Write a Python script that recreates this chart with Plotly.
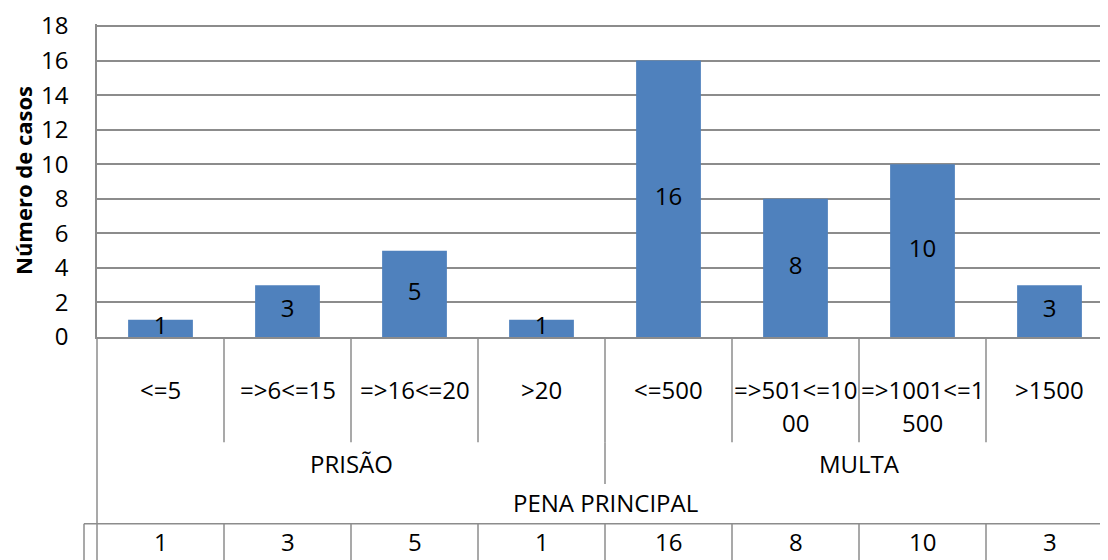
import plotly.graph_objects as go

# ---- data ----
categories = ["<=5", "=>6<=15", "=>16<=20", ">20", "<=500", "=>501<=1000", "=>1001<=1500", ">1500"]
label_lines = [["<=5"], ["=>6<=15"], ["=>16<=20"], [">20"], ["<=500"],
               ["=>501<=10", "00"], ["=>1001<=1", "500"], [">1500"]]
groups = ["PRISÃO", "MULTA"]
group_sizes = [4, 4]
top_label = "PENA PRINCIPAL"
values = [1, 3, 5, 1, 16, 8, 10, 3]
y_title = "Número de casos"
y_ticks = [0, 2, 4, 6, 8, 10, 12, 14, 16, 18]

# ---- styling ----
OFF = 8  # page body margin compensation
W, H = 1108 - OFF, 560 - OFF
Y_MAX = 18.12
px_per_unit = (337 - 24) / 18
PLOT_BOTTOM = 337 - OFF
plot_h = round(Y_MAX * px_per_unit)
PLOT_TOP = PLOT_BOTTOM - plot_h
PLOT_LEFT = 97 - OFF
FONT = "Open Sans"
FS = 24
GRID = "#8c8c8c"
BAR = "#4F81BD"


def py(p):
    """window pixel y -> paper y"""
    return (PLOT_BOTTOM - (p - OFF)) / plot_h


n = len(categories)
xs = list(range(n))

fig = go.Figure()
fig.add_trace(go.Bar(x=xs, y=values, marker=dict(color=BAR, line=dict(width=0)),
                     hoverinfo="skip", showlegend=False))
fig.add_trace(go.Scatter(x=xs, y=[v / 2 for v in values], mode="text",
                         text=[str(v) for v in values],
                         textfont=dict(family=FONT, size=FS, color="black"),
                         cliponaxis=False, hoverinfo="skip", showlegend=False))

shapes = []
line = dict(color=GRID, width=1.5)
# level-1 boundaries
for i in range(1, n):
    shapes.append(dict(type="line", xref="x", yref="paper", x0=i - 0.5, x1=i - 0.5,
                       y0=py(337), y1=py(443), line=line))
# level-2 boundaries
acc = 0
for s in group_sizes[:-1]:
    acc += s
    shapes.append(dict(type="line", xref="x", yref="paper", x0=acc - 0.5, x1=acc - 0.5,
                       y0=py(443), y1=py(485), line=line))
# data table
for i in range(1, n):
    shapes.append(dict(type="line", xref="x", yref="paper", x0=i - 0.5, x1=i - 0.5,
                       y0=py(525), y1=py(570), line=line))
shapes.append(dict(type="line", xref="paper", yref="paper", x0=0, x1=0,
                   y0=py(337), y1=py(570), line=line))
left_tab = (84 - 97) / (W - PLOT_LEFT)
shapes.append(dict(type="line", xref="paper", yref="paper", x0=left_tab, x1=left_tab,
                   y0=py(525), y1=py(570), line=line))
shapes.append(dict(type="line", xref="paper", yref="paper", x0=left_tab, x1=1.01,
                   y0=py(525), y1=py(525), line=line))

annotations = []
tf = dict(family=FONT, size=FS, color="black")
for i, lines in enumerate(label_lines):
    for k, t in enumerate(lines):
        annotations.append(dict(x=i, y=py(390 + 33 * k), xref="x", yref="paper", text=t,
                                showarrow=False, font=tf, xanchor="center", yanchor="middle"))
start = 0
for g, s in zip(groups, group_sizes):
    annotations.append(dict(x=start + (s - 1) / 2, y=py(464), xref="x", yref="paper", text=g,
                            showarrow=False, font=tf, xanchor="center", yanchor="middle"))
    start += s
annotations.append(dict(x=(n - 1) / 2, y=py(504), xref="x", yref="paper", text=top_label,
                        showarrow=False, font=tf, xanchor="center", yanchor="middle"))
for i, v in enumerate(values):
    annotations.append(dict(x=i, y=py(543), xref="x", yref="paper", text=str(v),
                            showarrow=False, font=tf, xanchor="center", yanchor="middle"))

cat_px = 127
x_end = -0.5 + (W - PLOT_LEFT) / cat_px

fig.update_layout(
    width=W, height=H,
    margin=dict(l=PLOT_LEFT, r=0, t=PLOT_TOP, b=H - PLOT_BOTTOM, pad=0),
    paper_bgcolor="white", plot_bgcolor="white",
    bargap=0.49,
    font=dict(family=FONT, size=FS, color="black"),
    xaxis=dict(range=[-0.5, x_end], showticklabels=False, ticks="", showgrid=False,
               zeroline=False, showline=True, linecolor=GRID, linewidth=1.5),
    yaxis=dict(range=[0, Y_MAX], tickvals=y_ticks, showgrid=True, gridcolor=GRID, gridwidth=1.5,
               zeroline=False, showline=True, linecolor=GRID, linewidth=1.5, ticks="",
               ticklabelstandoff=22, ticklabeloverflow="allow",
               tickfont=dict(family=FONT, size=FS, color="black"),
               title=dict(text="<b>" + y_title + "</b>", standoff=8,
                          font=dict(family=FONT, size=22, color="black"))),
    shapes=shapes,
    annotations=annotations,
)

fig.write_html("out.html")
